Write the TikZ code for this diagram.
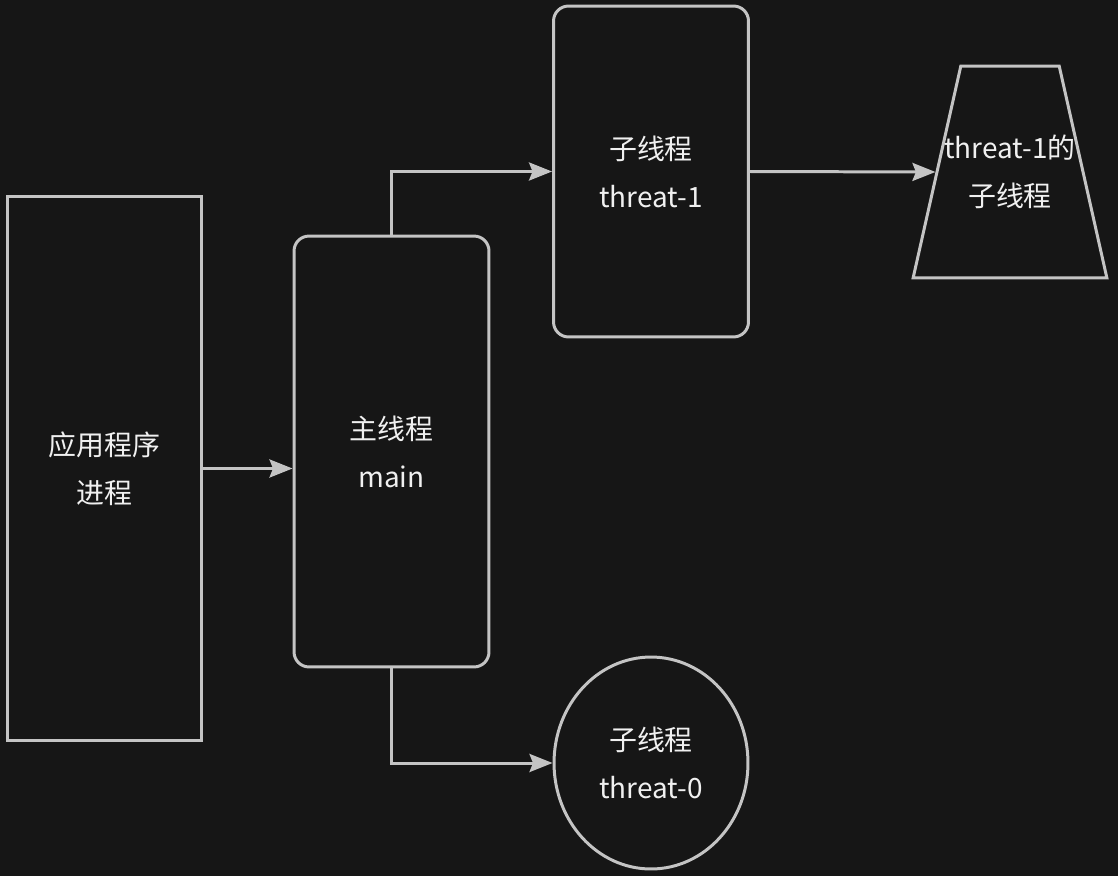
\documentclass[tikz,border=0pt]{standalone}
\usepackage{fontspec}
\setmainfont{Noto Sans CJK SC}
\usepackage{xcolor}
\usetikzlibrary{positioning,shapes.geometric,arrows.meta}
\definecolor{bgc}{HTML}{161616}
\definecolor{linec}{HTML}{C4C4C4}
\definecolor{txtc}{HTML}{F0F0F0}

\begin{document}
\begin{tikzpicture}[x=0.02cm,y=-0.02cm,
  every node/.style={font=\fontsize{15.9}{27.3}\selectfont,align=center,text=txtc},
  proc/.style  ={rectangle,draw=linec,line width=1.7pt,minimum width=3.9cm,
                 minimum height=10.9cm,inner sep=0pt},
  thrd/.style  ={rectangle,draw=linec,line width=1.7pt,rounded corners=0.3cm,
                 minimum width=3.9cm,inner sep=0pt},
  sub/.style   ={trapezium,draw=linec,line width=1.7pt,trapezium left angle=57.7,
                 trapezium right angle=57.7,trapezium stretches=true,
                 minimum width=3.88cm,minimum height=4.24cm,inner ysep=0pt,
                 inner xsep=-0.35cm},
  circ/.style  ={ellipse,draw=linec,line width=1.7pt,minimum width=3.88cm,
                 minimum height=4.24cm,inner sep=0pt},
  arr/.style   ={-{Stealth[length=0.46cm,width=0.36cm,inset=0.07cm]},
                 line width=1.7pt,linec},
]
\fill[bgc] (0,0) rectangle (1118,876);
\useasboundingbox (0,0) rectangle (1118,876);

\node[proc] at (104.5,468.5) (app)  {应用程序\\进程};
\node[thrd,minimum height=8.62cm] at (391.5,451.5) (main) {主线程\\main};
\node[thrd,minimum height=6.62cm] at (651,171.5)   (t1)   {子线程\\threat-1};
\node[sub]  at (1010,172)    (sub1) {threat-1的\\子线程};
\node[circ] at (651,763)     (t0)   {子线程\\threat-0};

\draw[arr] (app.east) -- (app.east -| main.west);
\draw[arr] (main.north) |- (t1.west);
\draw[arr] (main.south) |- (t0.west);
\draw[arr] (t1.east) -- (sub1.left side);
\end{tikzpicture}
\end{document}
